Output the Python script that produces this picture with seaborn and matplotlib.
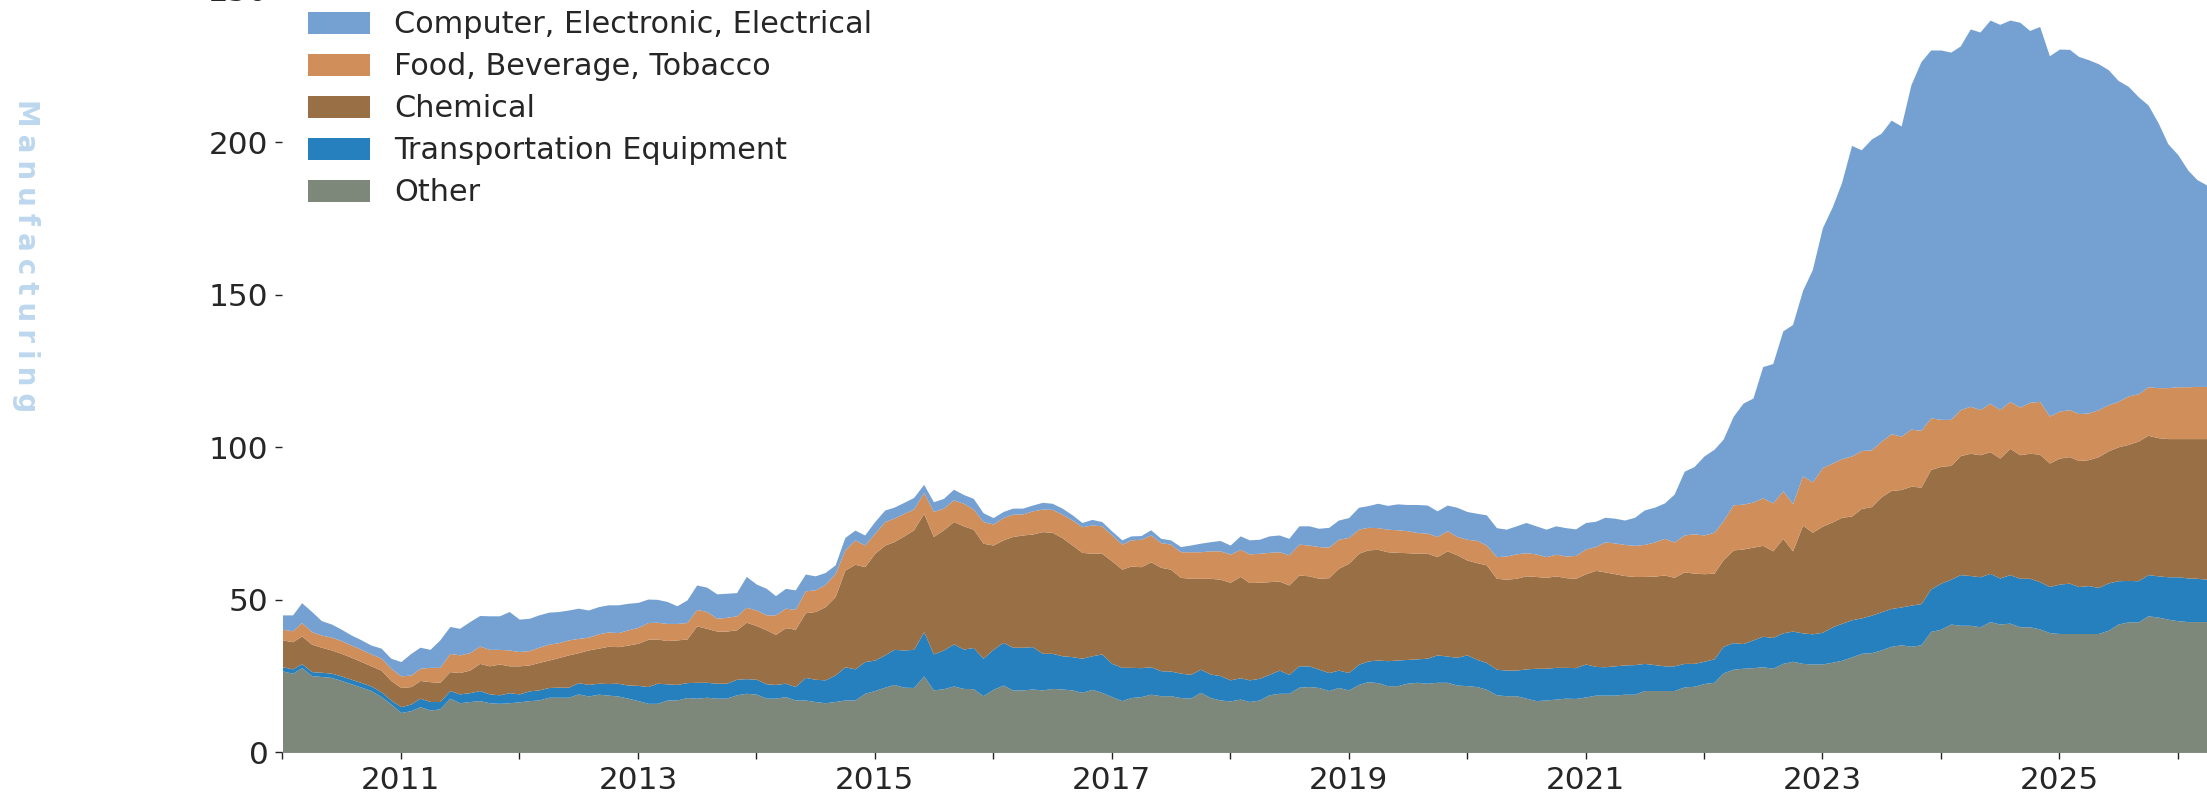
import matplotlib
matplotlib.use("Agg")
import matplotlib.pyplot as plt
import numpy as np
import pandas as pd
import seaborn as sns

# monthly values, Jan 2010 .. Apr 2026
START = "2010-01-01"

other = [
    26.7, 26.0, 27.8, 25.2, 24.9, 24.6, 23.6, 22.5, 21.4, 20.3, 18.3, 15.9,
    13.1, 13.7, 15.0, 13.9, 14.3, 17.8, 16.3, 16.7, 17.0, 16.3, 16.1, 16.3,
    16.6, 17.0, 17.2, 18.1, 18.1, 18.1, 19.2, 18.5, 19.1, 18.8, 18.5, 17.8,
    17.0, 16.1, 16.1, 17.2, 17.2, 18.0, 17.8, 18.1, 17.8, 17.8, 18.9, 19.4,
    19.1, 17.8, 17.8, 18.3, 17.2, 17.2, 16.7, 16.3, 16.7, 17.2, 17.2, 19.4,
    20.3, 21.4, 22.3, 21.4, 21.3, 25.1, 20.5, 20.9, 21.8, 21.0, 20.9, 18.6,
    20.7, 22.1, 20.5, 20.5, 20.8, 20.5, 21.0, 20.8, 20.5, 19.7, 20.7, 19.7,
    18.3, 17.0, 18.0, 18.3, 19.1, 18.6, 18.6, 18.0, 17.8, 19.7, 18.0, 17.2,
    16.9, 17.5, 16.7, 17.2, 18.9, 19.4, 19.4, 21.4, 21.6, 21.3, 20.3, 21.3,
    20.5, 22.3, 23.2, 22.9, 21.9, 21.9, 22.7, 23.0, 22.7, 23.0, 23.0, 22.1,
    21.9, 21.6, 20.7, 18.9, 18.6, 18.6, 17.8, 17.0, 17.2, 17.5, 17.8, 17.7,
    18.2, 18.8, 18.8, 18.8, 19.1, 19.1, 20.3, 20.3, 20.3, 20.3, 21.5, 21.7,
    22.6, 23.0, 26.1, 27.3, 27.6, 27.8, 28.1, 27.6, 29.2, 29.9, 29.2, 29.0,
    29.0, 29.6, 30.2, 31.3, 32.5, 32.7, 33.6, 34.8, 35.3, 34.8, 35.3, 39.7,
    40.4, 42.1, 41.7, 41.7, 41.2, 42.9, 42.1, 42.4, 41.2, 41.2, 40.5, 39.3,
    39.0, 39.0, 39.0, 39.0, 39.0, 40.1, 42.1, 42.8, 42.8, 44.8, 44.4, 43.7,
    43.2, 42.9, 42.9, 42.9,
]
transport = [
    1.4, 1.4, 1.3, 1.3, 1.4, 1.4, 1.5, 1.5, 1.5, 1.5, 1.6, 1.3,
    1.9, 2.2, 2.8, 2.8, 2.4, 2.5, 2.9, 2.9, 3.3, 2.9, 2.8, 3.3,
    2.6, 3.2, 3.3, 3.2, 3.3, 3.3, 3.7, 3.8, 3.6, 3.8, 4.2, 4.3,
    5.0, 5.5, 6.6, 5.3, 5.1, 4.9, 5.2, 4.9, 4.9, 4.9, 5.1, 4.8,
    4.9, 4.7, 4.5, 4.4, 4.4, 7.4, 7.3, 7.5, 8.7, 10.9, 10.2, 10.4,
    10.0, 10.6, 11.5, 12.2, 12.5, 14.5, 11.8, 12.7, 13.8, 12.9, 13.5, 12.3,
    13.1, 14.0, 14.0, 14.0, 13.9, 12.0, 11.5, 10.9, 10.9, 11.2, 11.0, 12.6,
    10.9, 10.9, 9.9, 9.5, 9.0, 8.2, 8.1, 8.0, 7.8, 7.6, 7.7, 8.0,
    6.9, 7.0, 7.1, 7.1, 6.7, 7.6, 6.2, 7.0, 6.8, 6.0, 5.9, 5.7,
    5.7, 6.6, 6.8, 7.4, 8.2, 8.4, 7.8, 7.7, 8.2, 9.0, 8.6, 9.1,
    10.1, 8.9, 8.8, 8.4, 8.4, 8.4, 9.6, 10.6, 10.4, 10.4, 10.1, 10.1,
    10.8, 9.4, 9.3, 9.6, 9.6, 9.7, 8.9, 8.5, 8.1, 8.1, 7.7, 7.5,
    7.3, 7.7, 8.7, 8.7, 8.1, 9.1, 10.0, 10.1, 10.0, 9.9, 10.0, 9.9,
    10.4, 11.6, 12.1, 12.2, 11.6, 12.3, 12.5, 12.4, 12.4, 13.5, 13.5, 13.9,
    15.1, 14.7, 16.6, 16.3, 16.4, 15.8, 15.1, 15.9, 15.9, 15.9, 15.5, 15.1,
    16.2, 16.5, 15.4, 15.7, 15.1, 15.5, 14.2, 13.6, 13.5, 13.5, 13.5, 13.9,
    14.4, 14.3, 14.2, 13.9,
]
chemical = [
    8.8, 8.9, 9.1, 9.0, 8.2, 7.6, 7.4, 7.2, 6.9, 6.6, 7.1, 6.4,
    6.3, 5.7, 5.8, 6.5, 6.3, 6.2, 7.0, 7.4, 8.9, 9.2, 10.1, 8.8,
    9.2, 8.5, 9.0, 9.0, 9.7, 10.6, 9.8, 11.3, 11.5, 12.2, 12.0, 13.1,
    13.8, 15.5, 14.5, 14.2, 14.6, 14.3, 18.5, 17.7, 17.1, 17.1, 16.2, 18.5,
    17.6, 17.7, 16.4, 18.2, 18.8, 21.2, 22.2, 24.0, 25.7, 31.7, 34.3, 31.1,
    35.0, 36.0, 35.3, 37.4, 39.2, 38.8, 38.5, 39.4, 40.1, 40.4, 38.8, 37.7,
    34.2, 33.6, 36.3, 36.8, 36.9, 39.9, 39.7, 38.7, 36.6, 34.7, 33.6, 33.0,
    33.6, 32.2, 33.2, 33.1, 34.4, 33.9, 33.4, 31.4, 31.5, 29.8, 31.4, 31.6,
    32.0, 33.2, 31.9, 31.5, 30.4, 29.2, 29.3, 29.8, 29.5, 29.8, 31.1, 33.4,
    35.8, 36.4, 36.4, 36.3, 35.7, 35.3, 35.0, 34.6, 34.4, 32.2, 34.5, 33.6,
    31.1, 31.7, 32.0, 29.8, 29.8, 30.1, 30.5, 30.1, 29.8, 30.0, 29.4, 29.3,
    29.6, 31.5, 31.1, 30.2, 29.3, 28.9, 28.5, 29.0, 29.8, 29.0, 30.0, 29.6,
    28.7, 28.1, 28.4, 30.4, 31.0, 30.4, 29.8, 28.4, 31.0, 26.3, 35.3, 33.3,
    34.8, 34.4, 34.8, 34.0, 35.9, 35.6, 37.7, 38.7, 38.5, 39.0, 38.2, 39.2,
    38.3, 37.3, 39.0, 40.1, 40.0, 39.9, 39.3, 41.4, 40.5, 41.0, 41.8, 40.5,
    41.3, 41.5, 41.3, 41.3, 42.9, 43.3, 43.9, 44.6, 45.8, 45.7, 45.3, 45.3,
    45.3, 45.7, 45.8, 46.1,
]
food = [
    3.5, 3.6, 4.4, 4.1, 4.0, 4.2, 4.2, 4.0, 4.0, 3.9, 3.9, 4.0,
    3.8, 3.8, 4.0, 4.7, 4.9, 6.0, 5.8, 5.7, 5.7, 5.4, 4.8, 5.2,
    4.7, 4.7, 5.0, 5.2, 4.9, 4.9, 4.7, 4.2, 4.7, 4.7, 4.6, 5.0,
    5.2, 5.5, 5.5, 5.6, 5.4, 5.4, 5.4, 5.5, 4.2, 4.5, 4.6, 4.9,
    5.1, 4.9, 6.4, 6.4, 6.5, 7.2, 7.1, 7.3, 7.6, 6.6, 8.0, 7.1,
    6.6, 7.7, 7.7, 7.4, 6.8, 6.8, 8.2, 7.1, 7.1, 7.4, 6.6, 7.1,
    6.9, 7.3, 7.3, 6.9, 7.6, 7.4, 7.5, 7.7, 8.2, 8.4, 9.3, 9.0,
    8.5, 8.2, 8.6, 9.0, 8.8, 8.1, 8.2, 8.4, 8.7, 8.7, 9.0, 9.3,
    9.2, 8.9, 9.4, 9.5, 9.6, 9.6, 9.9, 10.1, 10.1, 10.4, 10.0, 9.5,
    8.5, 7.9, 7.4, 7.1, 7.4, 7.4, 7.2, 6.8, 6.6, 6.6, 6.6, 6.0,
    6.8, 7.3, 6.5, 7.1, 7.6, 8.0, 7.6, 7.4, 6.8, 7.1, 7.1, 7.5,
    8.1, 7.8, 9.8, 10.1, 10.2, 10.2, 10.5, 11.2, 12.0, 11.6, 12.1, 12.9,
    12.7, 13.4, 12.8, 14.8, 14.7, 14.8, 15.6, 15.7, 15.6, 15.5, 16.2, 16.5,
    19.2, 19.3, 19.2, 19.7, 19.0, 18.6, 18.2, 18.6, 17.5, 18.7, 18.6, 16.9,
    15.4, 15.1, 15.1, 15.4, 14.8, 15.9, 15.9, 15.4, 15.6, 16.7, 17.3, 15.4,
    15.4, 15.4, 15.4, 15.3, 15.4, 15.1, 14.9, 15.9, 15.5, 15.9, 16.4, 16.7,
    17.0, 17.0, 17.1, 17.1,
]
computer = [
    4.7, 5.2, 6.5, 6.6, 4.7, 4.3, 3.7, 3.3, 3.1, 2.9, 3.3, 3.3,
    4.7, 7.1, 6.9, 5.9, 9.0, 8.8, 8.7, 10.2, 10.0, 11.0, 11.0, 12.6,
    10.6, 10.6, 10.6, 10.5, 10.2, 9.8, 9.9, 8.9, 8.9, 8.9, 9.1, 8.7,
    8.2, 7.7, 7.5, 7.2, 5.8, 7.4, 8.0, 8.0, 8.0, 7.9, 7.6, 10.1,
    8.5, 8.7, 6.3, 6.5, 6.4, 5.5, 4.6, 3.9, 2.8, 4.1, 3.2, 3.3,
    3.8, 3.8, 3.6, 3.6, 3.8, 2.7, 3.2, 3.2, 3.5, 2.9, 3.5, 2.9,
    2.1, 2.0, 2.0, 1.9, 1.9, 2.2, 2.0, 2.0, 1.7, 1.4, 1.8, 1.4,
    1.3, 1.4, 1.3, 1.2, 1.7, 1.4, 1.4, 1.7, 2.2, 2.8, 3.0, 3.4,
    3.0, 4.4, 4.6, 4.6, 5.4, 5.5, 5.4, 6.0, 6.3, 6.0, 6.5, 6.3,
    6.5, 7.2, 7.1, 8.0, 7.8, 8.5, 8.6, 9.2, 9.2, 8.4, 8.4, 9.6,
    9.1, 8.9, 9.9, 9.5, 8.8, 9.2, 9.9, 9.2, 9.0, 9.3, 9.3, 8.7,
    8.7, 8.3, 8.1, 8.1, 8.0, 9.2, 11.3, 11.4, 11.6, 15.7, 20.9, 22.0,
    25.9, 27.2, 26.7, 29.0, 33.1, 34.1, 43.0, 45.7, 52.4, 58.7, 60.8, 69.6,
    78.6, 84.1, 90.5, 101.8, 98.6, 101.9, 101.0, 102.8, 101.7, 112.9, 120.9, 120.6,
    121.1, 120.4, 119.2, 123.7, 123.8, 125.6, 126.3, 125.0, 126.2, 121.9, 122.9, 118.1,
    118.7, 118.1, 117.1, 115.8, 113.4, 109.8, 105.2, 101.5, 97.4, 92.4, 86.9, 80.0,
    76.1, 71.0, 67.8, 66.0,
]

labels = ["Other", "Transportation Equipment", "Chemical",
          "Food, Beverage, Tobacco", "Computer, Electronic, Electrical"]
colors = ["#7d877a", "#2680be", "#997046", "#d08e5a", "#74a0d2"]

dates = pd.date_range(START, periods=len(other), freq="MS")
df = pd.DataFrame({"Other": other, "Transportation Equipment": transport,
                   "Chemical": chemical, "Food, Beverage, Tobacco": food,
                   "Computer, Electronic, Electrical": computer}, index=dates)

sns.set_theme(style="white")
plt.rcParams["font.family"] = ["DejaVu Sans"]

fig = plt.figure(figsize=(22.07, 7.96), dpi=100)
ax = fig.add_axes([0.128, 0.0547, 0.872, 0.958])

polys = ax.stackplot(df.index, *[df[c] for c in labels], labels=labels,
                     colors=colors, lw=0)

years = pd.date_range("2010-01-01", "2026-01-01", freq="YS")
ax.set_xticks(years)
ax.set_xticklabels([str(y.year) if y.year % 2 else "" for y in years])
ax.set_xlim(df.index[0], df.index[-1])
ax.set_ylim(0, 250)
ax.set_yticks([0, 50, 100, 150, 200, 250])
ax.tick_params(axis="both", which="both", labelsize=22.4, length=5, width=1,
               color="#222222", pad=5, left=True, bottom=True)
sns.despine(ax=ax, left=True, bottom=True)

leg = ax.legend(handles=polys[::-1], labels=labels[::-1], loc="upper left",
                bbox_to_anchor=(0.1395, 0.987), bbox_transform=fig.transFigure,
                frameon=False, fontsize=21.8, borderpad=0, borderaxespad=0,
                handlelength=2.06, handleheight=0.75, handletextpad=0.8,
                labelspacing=0.43)

# letter-spaced side label, four-per-em spaces between letters
side = "\u2005".join("Manufacturing")
fig.text(0.012, 0.876, side, rotation=-90,
         color="#bdd7ee", fontsize=20, fontweight="bold", ha="center", va="top")

fig.savefig("out.png", dpi=100)
